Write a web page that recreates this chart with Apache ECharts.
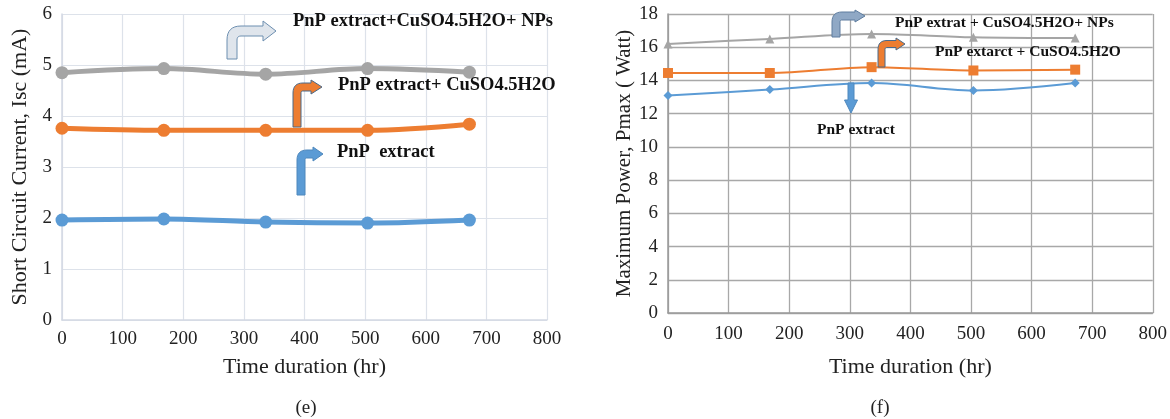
<!DOCTYPE html>
<html>
<head>
<meta charset="utf-8">
<script src="https://cdn.jsdelivr.net/npm/echarts@6/dist/echarts.min.js"></script>
<style>
html,body{margin:0;padding:0;background:#fff;}
#main{width:1170px;height:419px;}
</style>
</head>
<body>
<div id="main"></div>
<script>
// ---- data ----
const hours = [0, 168, 336, 504, 672];
const xTicks = [0, 100, 200, 300, 400, 500, 600, 700, 800];
// (e) Short circuit current, Isc (mA)
const iscNPs = [4.85, 4.93, 4.82, 4.93, 4.86];
const iscCuSO4 = [3.76, 3.72, 3.72, 3.72, 3.84];
const iscExtract = [1.96, 1.98, 1.92, 1.90, 1.96];
// (f) Maximum power, Pmax (Watt)
const pmaxNPs = [16.2, 16.5, 16.8, 16.6, 16.55];
const pmaxCuSO4 = [14.45, 14.45, 14.8, 14.6, 14.65];
const pmaxExtract = [13.1, 13.45, 13.85, 13.4, 13.85];

const labelsE = ['PnP extract+CuSO4.5H2O+ NPs', 'PnP extract+ CuSO4.5H2O', 'PnP  extract'];
const labelsF = ['PnP extrat + CuSO4.5H2O+ NPs', 'PnP extarct + CuSO4.5H2O', 'PnP extract'];
const panelTags = ['(e)', '(f)'];

const pairs = (xs, ys) => xs.map((x, i) => [x, ys[i]]);

const SERIF = "'Liberation Serif','Times New Roman',serif";
const GRAY = '#a5a5a5', ORANGE = '#ed7d31', BLUE = '#5b9bd5';

// bent-arrow outline as polygon points
function quad(p0, p1, p2, n) {
  const out = [];
  for (let i = 1; i < n; i++) {
    const t = i / n;
    out.push([(1-t)*(1-t)*p0[0] + 2*(1-t)*t*p1[0] + t*t*p2[0],
              (1-t)*(1-t)*p0[1] + 2*(1-t)*t*p1[1] + t*t*p2[1]]);
  }
  return out;
}
function bentArrow(x0, w, yb, ya, xh, tip, hh, R) {
  const yt = ya - w / 2, ybt = ya + w / 2;
  const r = Math.max(R - w, 1.5);
  let pts = [[x0, yb], [x0, yt + R]];
  pts = pts.concat(quad([x0, yt + R], [x0, yt], [x0 + R, yt], 8));
  pts.push([x0 + R, yt], [xh, yt], [xh, ya - hh], [tip, ya], [xh, ya + hh], [xh, ybt], [x0 + w + r, ybt]);
  pts = pts.concat(quad([x0 + w + r, ybt], [x0 + w, ybt], [x0 + w, ybt + r], 6));
  pts.push([x0 + w, ybt + r], [x0 + w, yb]);
  return pts;
}
function arrowEl(pts, fill, stroke) {
  return { type: 'polygon', shape: { points: pts }, style: { fill: fill, stroke: stroke, lineWidth: 1 }, z: 10 };
}
function textEl(x, y, txt, size) {
  return { type: 'text', x: x, y: y, z: 11,
    style: { text: txt, font: 'bold ' + size + 'px ' + SERIF, fill: '#111', verticalAlign: 'middle', align: 'left' } };
}

const chart = echarts.init(document.getElementById('main'), null, { renderer: 'canvas' });

const axisLabelStyle = { fontFamily: SERIF, fontSize: 19, color: '#222' };
const nameStyle = { fontFamily: SERIF, fontSize: 22, color: '#222' };

const option = {
  backgroundColor: '#fff',
  animation: false,
  grid: [
    { left: 62, right: 623, top: 14, bottom: 99 },
    { left: 668, right: 14, top: 14, bottom: 106 }
  ],
  xAxis: [
    { gridIndex: 0, type: 'value', min: 0, max: 800, interval: 100,
      name: 'Time duration (hr)', nameLocation: 'middle', nameGap: 36, nameTextStyle: nameStyle,
      axisLine: { lineStyle: { color: '#d3d9e3', width: 1.5 } }, axisTick: { show: false },
      axisLabel: Object.assign({ margin: 10 }, axisLabelStyle),
      splitLine: { show: true, lineStyle: { color: '#dde2ea', width: 1.2 } } },
    { gridIndex: 1, type: 'value', min: 0, max: 800, interval: 100,
      name: 'Time duration (hr)', nameLocation: 'middle', nameGap: 43, nameTextStyle: nameStyle,
      axisLine: { lineStyle: { color: '#9a9a9a', width: 1.5 } }, axisTick: { show: false },
      axisLabel: Object.assign({ margin: 12 }, axisLabelStyle),
      splitLine: { show: true, lineStyle: { color: '#a8a8a8', width: 1.3 } } }
  ],
  yAxis: [
    { gridIndex: 0, type: 'value', min: 0, max: 6, interval: 1,
      name: 'Short Circuit Current, Isc (mA)', nameLocation: 'middle', nameGap: 31, nameTextStyle: nameStyle,
      axisLine: { show: true, lineStyle: { color: '#d3d9e3', width: 1.5 } }, axisTick: { show: false },
      axisLabel: Object.assign({ margin: 10 }, axisLabelStyle),
      splitLine: { show: true, lineStyle: { color: '#dde2ea', width: 1.2 } } },
    { gridIndex: 1, type: 'value', min: 0, max: 18, interval: 2,
      name: 'Maximum Power, Pmax ( Watt)', nameLocation: 'middle', nameGap: 23,
      nameTextStyle: { fontFamily: SERIF, fontSize: 21, color: '#222' },
      axisLine: { show: true, lineStyle: { color: '#9a9a9a', width: 1.5 } }, axisTick: { show: false },
      axisLabel: Object.assign({ margin: 10 }, axisLabelStyle),
      splitLine: { show: true, lineStyle: { color: '#a8a8a8', width: 1.3 } } }
  ],
  series: [
    { type: 'line', xAxisIndex: 0, yAxisIndex: 0, data: pairs(hours, iscNPs), smooth: 0.35,
      symbol: 'circle', symbolSize: 13, lineStyle: { color: GRAY, width: 5 }, itemStyle: { color: GRAY } },
    { type: 'line', xAxisIndex: 0, yAxisIndex: 0, data: pairs(hours, iscCuSO4), smooth: 0.35,
      symbol: 'circle', symbolSize: 13, lineStyle: { color: ORANGE, width: 5 }, itemStyle: { color: ORANGE } },
    { type: 'line', xAxisIndex: 0, yAxisIndex: 0, data: pairs(hours, iscExtract), smooth: 0.35,
      symbol: 'circle', symbolSize: 13, lineStyle: { color: BLUE, width: 5 }, itemStyle: { color: BLUE } },
    { type: 'line', xAxisIndex: 1, yAxisIndex: 1, data: pairs(hours, pmaxNPs), smooth: 0.35,
      symbol: 'triangle', symbolSize: 9, lineStyle: { color: GRAY, width: 2 }, itemStyle: { color: GRAY } },
    { type: 'line', xAxisIndex: 1, yAxisIndex: 1, data: pairs(hours, pmaxCuSO4), smooth: 0.35,
      symbol: 'rect', symbolSize: 10, lineStyle: { color: ORANGE, width: 2 }, itemStyle: { color: ORANGE } },
    { type: 'line', xAxisIndex: 1, yAxisIndex: 1, data: pairs(hours, pmaxExtract), smooth: 0.35,
      symbol: 'diamond', symbolSize: 9, lineStyle: { color: BLUE, width: 2 }, itemStyle: { color: BLUE } }
  ],
  graphic: [
    // panel (e) annotations
    arrowEl(bentArrow(227, 10, 59, 31, 263, 276, 10, 14), '#dfe5ec', '#6d8fb0'),
    textEl(293, 21, labelsE[0], 18.5),
    arrowEl(bentArrow(293, 8, 127, 87, 311, 322, 7, 10), ORANGE, '#4a6a8a'),
    textEl(338, 85, labelsE[1], 18.5),
    arrowEl(bentArrow(297, 8, 195, 154, 313, 323, 7, 10), BLUE, '#4f88bd'),
    textEl(337, 152, labelsE[2], 18.5),
    // panel (f) annotations
    arrowEl(bentArrow(832, 8, 37, 16, 855, 865, 6, 10), '#8fa8c5', '#5f7d9f'),
    textEl(895, 23, labelsF[0], 15.5),
    arrowEl(bentArrow(878, 7, 67, 44, 896, 905, 6, 9), ORANGE, '#4a6a8a'),
    textEl(935, 52, labelsF[1], 15.5),
    { type: 'polygon', z: 10, shape: { points: [[848, 83], [854, 83], [854, 100], [857.5, 100], [851, 113], [844.5, 100], [848, 100]] },
      style: { fill: BLUE, stroke: '#4f88bd', lineWidth: 1 } },
    textEl(817, 130, labelsF[2], 15.5),
    // panel tags
    { type: 'text', x: 306, y: 408, z: 11, style: { text: panelTags[0], font: '19px ' + SERIF, fill: '#222', align: 'center', verticalAlign: 'middle' } },
    { type: 'text', x: 880, y: 408, z: 11, style: { text: panelTags[1], font: '19px ' + SERIF, fill: '#222', align: 'center', verticalAlign: 'middle' } }
  ]
};
chart.setOption(option);
</script>
</body>
</html>
